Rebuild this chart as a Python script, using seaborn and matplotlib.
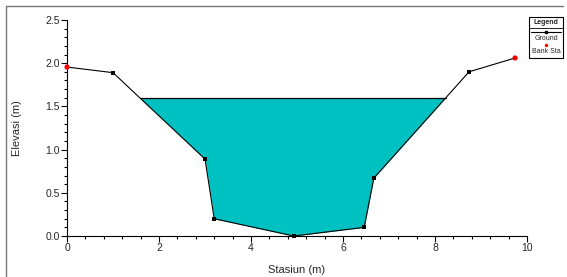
import matplotlib
matplotlib.use("Agg")
import matplotlib.pyplot as plt
from matplotlib.lines import Line2D
from matplotlib.ticker import MultipleLocator
import numpy as np
import pandas as pd
import seaborn as sns

# data read from the cross section
stasiun = [0.0, 1.0, 3.0, 3.2, 4.93, 6.46, 6.67, 8.74, 9.74]
elevasi = [1.955, 1.89, 0.89, 0.20, 0.0, 0.10, 0.67, 1.90, 2.06]
bank_sta = [0.0, 9.74]
bank_elev = [1.955, 2.06]
ws_elev = 1.6  # muka air

sns.set_style("white")
plt.rcParams['font.family'] = ['Liberation Sans', 'DejaVu Sans']

df = pd.DataFrame({"Stasiun": stasiun, "Elevasi": elevasi})
bank = pd.DataFrame({"Stasiun": bank_sta, "Elevasi": bank_elev})

fig = plt.figure(figsize=(5.67, 2.77), dpi=100)
ax = fig.add_axes([0.1182, 0.148, 0.8113, 0.78])

# batas air kiri & kanan (titik potong muka air dengan tanah)
x_l = np.interp(ws_elev, [elevasi[2], elevasi[1]], [stasiun[2], stasiun[1]])
x_r = np.interp(ws_elev, [elevasi[6], elevasi[7]], [stasiun[6], stasiun[7]])
wx = [x_l] + stasiun[2:7] + [x_r]
wy = [ws_elev] + elevasi[2:7] + [ws_elev]
ax.fill_between(wx, wy, ws_elev, color='#00c1c1', lw=0, zorder=1)
ax.plot([x_l, x_r], [ws_elev, ws_elev], color='black', lw=0.9, zorder=2)

sns.lineplot(data=df, x="Stasiun", y="Elevasi", ax=ax, color='black', lw=0.8,
             marker='s', markersize=2.2, markeredgewidth=0, sort=False, zorder=3,
             clip_on=False)
sns.scatterplot(data=bank, x="Stasiun", y="Elevasi", ax=ax, color='red',
                s=14, edgecolor='none', zorder=4, clip_on=False)

ax.set_xlim(0, 10)
ax.set_ylim(0, 2.5)
ax.xaxis.set_major_locator(MultipleLocator(2))
ax.xaxis.set_minor_locator(MultipleLocator(0.4))
ax.yaxis.set_major_locator(MultipleLocator(0.5))
ax.yaxis.set_minor_locator(MultipleLocator(0.1))
ax.set_yticks([0, 0.5, 1.0, 1.5, 2.0, 2.5])
ax.set_yticklabels(['0.0', '0.5', '1.0', '1.5', '2.0', '2.5'])
ax.tick_params(which='major', direction='out', length=4, width=0.8,
               labelsize=7.5, pad=1, color='black', left=True, bottom=True)
ax.tick_params(which='minor', direction='out', length=2, width=0.8,
               color='black', left=True, bottom=True)
ax.set_xlabel('Stasiun (m)', fontsize=8, labelpad=9)
ax.set_ylabel('Elevasi (m)', fontsize=8, labelpad=17)
for s in ['top', 'right']:
    ax.spines[s].set_visible(False)
for s in ['left', 'bottom']:
    ax.spines[s].set_color('black')
    ax.spines[s].set_linewidth(0.8)

# bingkai luar
fig.add_artist(Line2D([6 / 567, 6 / 567], [0, 1 - 6 / 277], color='#777777', lw=1))
fig.add_artist(Line2D([6 / 567, 563 / 567], [1 - 6 / 277, 1 - 6 / 277], color='#777777', lw=1))

# kotak legenda
lx0, lx1 = 529 / 567, 563 / 567
ly0, ly1 = 1 - 58 / 277, 1 - 17 / 277
fig.add_artist(plt.Rectangle((lx0, ly0), lx1 - lx0, ly1 - ly0, fill=False,
                             ec='black', lw=0.8, transform=fig.transFigure))
cx = (lx0 + lx1) / 2
fig.text(cx, 1 - 22.5 / 277, 'Legend', fontsize=5, weight='bold', ha='center', va='center')
fig.add_artist(Line2D([lx0, lx1], [1 - 28 / 277] * 2, color='black', lw=0.6))
fig.add_artist(Line2D([lx0 + 2 / 567, lx1 - 2 / 567], [1 - 32 / 277] * 2, color='black', lw=0.8))
fig.add_artist(Line2D([cx], [1 - 32 / 277], marker='s', markersize=2, color='black'))
fig.text(cx, 1 - 38 / 277, 'Ground', fontsize=5, ha='center', va='center')
fig.add_artist(Line2D([cx], [1 - 45 / 277], marker='o', markersize=2.5, color='red', mec='none'))
fig.text(cx, 1 - 51.5 / 277, 'Bank Sta', fontsize=5, ha='center', va='center')

fig.savefig('out.png', dpi=100)
